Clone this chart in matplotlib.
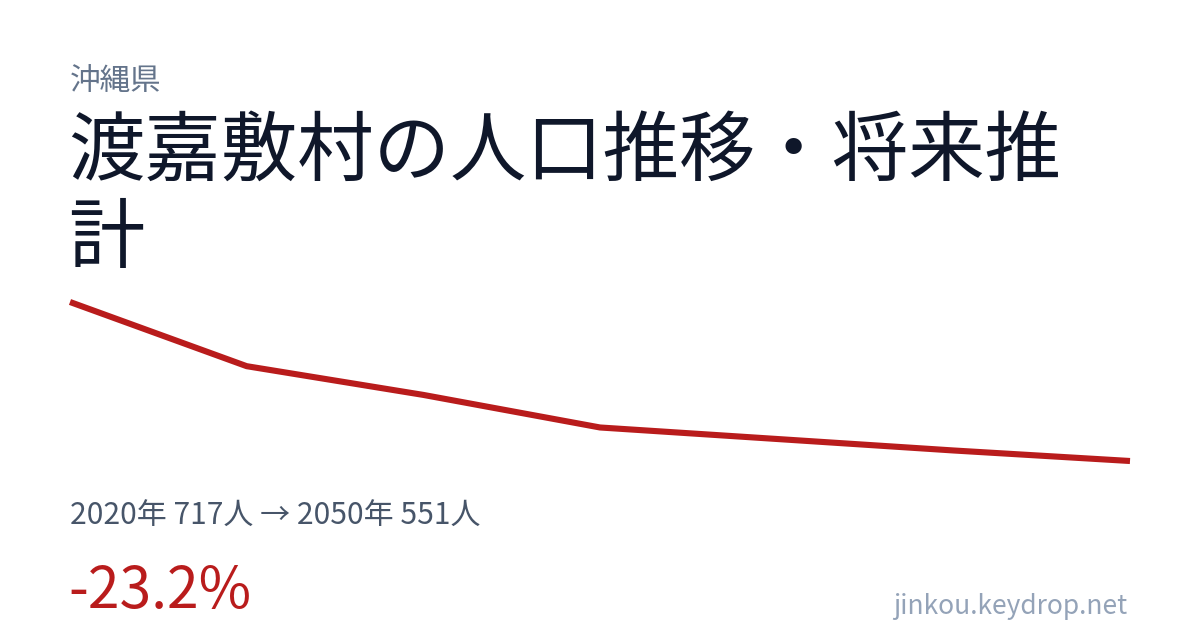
import matplotlib
matplotlib.use("Agg")
import matplotlib.pyplot as plt

plt.rcParams['font.family'] = ['Noto Sans CJK JP', 'DejaVu Sans']

# data
years = [2020, 2025, 2030, 2035, 2040, 2045, 2050]
population = [717, 650, 620, 586, 574, 562, 551]

prefecture = "沖縄県"
title_line1 = "渡嘉敷村の人口推移・将来推"
title_line2 = "計"
summary = f"{years[0]}年 {population[0]}人 → {years[-1]}年 {population[-1]}人"
change = (population[-1] - population[0]) / population[0] * 100
change_label = f"{change:.1f}%"
site = "jinkou.keydrop.net"

W, H = 1200, 630
fig = plt.figure(figsize=(W / 100, H / 100), dpi=100)
fig.patch.set_facecolor('white')

def fx(px):
    return px / W

def fy(py):
    return 1 - py / H

# line area: 2020 at x=70,y=302 ; 2050 at x=1130,y=461
ax = fig.add_axes([fx(70), fy(461), fx(1130) - fx(70), fy(302) - fy(461)])
ax.plot(years, population, color='#b91c1c', linewidth=4.4, solid_capstyle='butt',
        solid_joinstyle='round', clip_on=False)
ax.set_xlim(years[0], years[-1])
ax.set_ylim(min(population), max(population))
ax.axis('off')

fig.text(fx(70), fy(82), prefecture, fontsize=22, color='#64748b', va='center', ha='left')
fig.text(fx(68), fy(153), title_line1, fontsize=55, color='#0f172a', va='center', ha='left')
fig.text(fx(68), fy(240), title_line2, fontsize=55, color='#0f172a', va='center', ha='left')
fig.text(fx(70), fy(516), summary, fontsize=21.6, color='#475569', va='center', ha='left')
fig.text(fx(68), fy(592), change_label, fontsize=41, color='#b91c1c', va='center', ha='left')
fig.text(fx(1127), fy(607), site, fontsize=19, color='#94a3b8', va='center', ha='right')

fig.savefig('out.png', dpi=100, facecolor='white')
